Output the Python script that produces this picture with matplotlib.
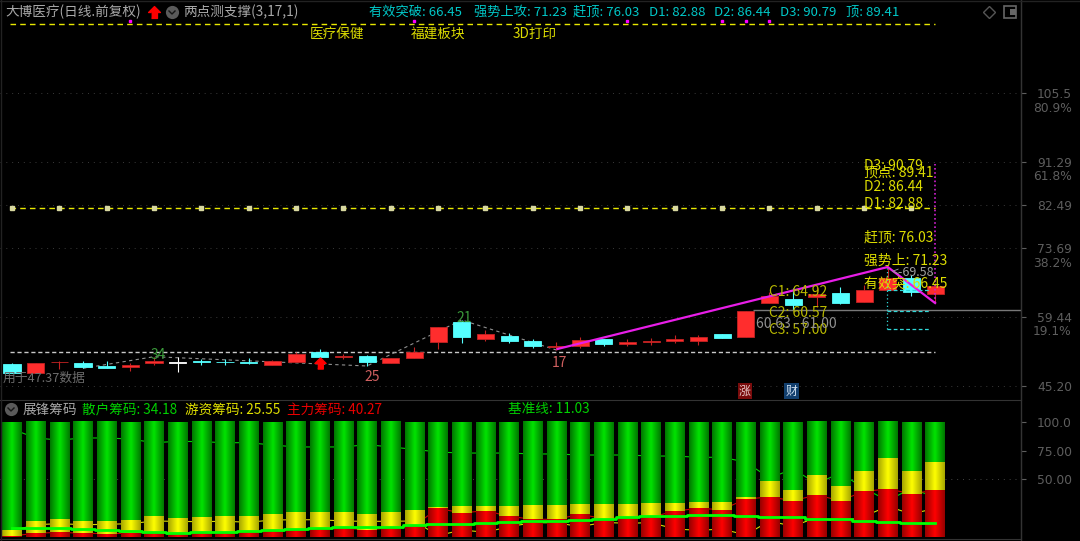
import numpy as np
import matplotlib
matplotlib.use("Agg")
import matplotlib.pyplot as plt
from matplotlib.colors import LinearSegmentedColormap

plt.rcParams['font.family'] = ['Noto Sans CJK SC', 'DejaVu Sans']

# candles, left to right
opens = [49.73, 47.94, 50.04, 49.93, 49.38, 49.05, 50.0, 50.0, 50.28, 50.24,
         50.08, 49.52, 50.2, 52.26, 51.17, 51.38, 50.0, 50.9, 54.2, 58.31,
         54.87, 55.55, 54.4, 53.17, 53.5, 54.81, 53.91, 54.2, 54.46, 54.46,
         55.84, 55.35, 62.22, 63.04, 63.58, 64.4, 62.55, 64.96, 67.49, 64.07]
closes = [47.81, 49.93, 50.2, 49.17, 48.97, 49.52, 50.28, 50.0, 50.08, 50.08,
          49.87, 50.41, 51.85, 51.11, 51.31, 50.2, 50.9, 52.26, 57.4, 55.35,
          55.84, 54.4, 53.5, 53.37, 54.61, 53.91, 54.26, 54.46, 54.87, 55.35,
          55.14, 60.7, 63.72, 61.81, 64.14, 62.35, 64.96, 67.37, 64.48, 65.78]
highs = [50.0, 49.93, 50.35, 50.41, 50.41, 50.0, 51.23, 51.23, 50.76, 50.76,
         50.9, 50.62, 52.26, 52.75, 51.85, 51.58, 50.9, 53.29, 57.4, 58.78,
         56.73, 56.17, 54.87, 54.2, 55.35, 54.81, 54.87, 55.14, 55.63, 55.63,
         55.84, 60.7, 64.61, 65.31, 65.64, 65.51, 65.99, 69.75, 68.05, 66.4]
lows = [47.81, 47.94, 48.7, 48.84, 48.84, 48.23, 49.52, 48.14, 49.52, 49.52,
        49.67, 49.52, 50.2, 51.11, 50.69, 49.32, 50.0, 50.9, 52.82, 54.11,
        54.46, 54.11, 52.98, 52.61, 53.08, 53.5, 53.43, 53.64, 54.11, 53.64,
        54.98, 55.35, 62.22, 60.84, 61.52, 62.02, 62.55, 64.96, 63.78, 62.22]

# chip percentages per bar
zhuli = [0.9, 3.2, 4.1, 3.2, 2.9, 3.2, 4.1, 3.2, 3.8, 4.3,
         5.2, 5.2, 6.7, 6.7, 7.8, 6.1, 8.0, 9.9, 24.9, 20.9,
         22.9, 18.0, 15.4, 15.4, 19.7, 16.0, 16.8, 17.1, 22.6, 24.9,
         23.8, 33.0, 34.8, 31.6, 36.5, 31.6, 39.7, 41.7, 37.7, 40.6]
youzi = [5.2, 10.7, 11.6, 10.7, 11.0, 11.6, 13.9, 13.6, 13.3, 13.7,
         12.8, 14.8, 15.0, 15.0, 13.9, 13.6, 13.7, 13.9, 1.2, 6.1,
         4.1, 9.0, 12.4, 12.4, 9.0, 12.7, 11.9, 12.5, 7.0, 5.8,
         6.9, 1.8, 13.9, 9.3, 17.1, 12.7, 18.0, 26.7, 20.0, 24.9]
sanhu = [93.9, 86.1, 84.3, 86.1, 86.1, 85.2, 82.0, 83.2, 82.9, 82.0,
         82.0, 80.0, 78.3, 78.3, 78.3, 80.3, 78.3, 76.2, 73.9, 73.0,
         73.0, 73.0, 72.2, 72.2, 71.3, 71.3, 71.3, 70.4, 70.4, 69.3,
         69.3, 65.2, 51.3, 59.1, 46.4, 55.7, 42.3, 31.6, 42.3, 34.5]
jizhun = [7.5, 8.1, 7.5, 7.2, 6.4, 5.2, 4.3, 3.8, 4.1, 4.6,
          5.5, 6.1, 6.7, 7.5, 8.7, 8.7, 9.0, 10.4, 11.3, 11.3,
          12.2, 13.0, 14.2, 14.2, 15.1, 15.9, 17.1, 18.0, 18.0, 19.1,
          19.4, 18.3, 17.1, 17.1, 15.9, 15.4, 14.2, 13.0, 11.9, 11.9]

# lines on the price panel
zz_x = [3, 6, 15, 19, 23]
zz_y = [48.84, 51.23, 49.32, 58.78, 52.61]
trend_x = [23.05, 37, 39]
trend_y = [52.82, 69.69, 62.28]
event_bars = [5, 17, 26, 30, 31, 32]
support_price = 52.2
top_line = 119.7
mid_line = 81.85
last_price = 60.84

level_names = ["D3", "顶点", "D2", "D1", "赶顶", "强势上", "有效突"]
level_vals = [90.79, 89.41, 86.44, 82.88, 76.03, 71.23, 66.45]
c_names = ["C1", "C2", "C3"]
c_vals = [64.92, 60.57, 57.00]

price_ticks = [105.5, 91.29, 82.49, 73.69, 59.44, 45.20]
pct_ticks = [102.6, 88.6, 70.7, 56.7]
pct_labels = ["80.9%", "61.8%", "38.2%", "19.1%"]
chip_ticks = [100.0, 75.0, 50.0]
chip_labels = ["100.0", "75.00", "50.00"]

BG = "black"
FRAME = "#333333"
AXTXT = "#5e5e5e"
YEL = "#dcdc00"
CYAN = "#00c8c8"
GRAY = "#a8a8a8"
ARROW = [(-0.5, 0), (-1, 0), (0, 1), (1, 0), (0.5, 0), (0.5, -1), (-0.5, -1)]

W, H = 1080, 541
fig = plt.figure(figsize=(W / 100, H / 100), dpi=100, facecolor=BG)


def pix_axes(x0, y0, x1, y1):
    return fig.add_axes([x0 / W, 1 - y1 / H, (x1 - x0) / W, (y1 - y0) / H], facecolor=BG)


ax = pix_axes(0, 0, 1021, 400)
sub = pix_axes(0, 421, 1021, 539)
top = fig.add_axes([0, 0, 1, 1], facecolor="none")
top.set_xlim(0, W)
top.set_ylim(H, 0)
top.axis("off")

xlim = (-0.507, 42.63)
x = np.arange(len(opens))

# price panel
for p in price_ticks:
    ax.axhline(p, color="#3a3a3a", lw=0.7, ls=(0, (1, 5)), zorder=1)
ax.plot([-0.1, 39], [support_price, support_price], color="#c8c8c8", lw=1, ls=(0, (3, 2)), zorder=2)
ax.plot([-0.1, 39], [top_line, top_line], color="#e8e800", lw=1, ls=(0, (4, 3)), zorder=2)
ax.plot([-0.1, 39], [mid_line, mid_line], color="#e8e800", lw=1, ls=(0, (4, 3)), zorder=2)
ax.plot(x[::2], [mid_line] * len(x[::2]), ls="", marker="s", ms=3.2, color="#d8d8a0", zorder=3)
ax.plot(event_bars, [top_line + 0.6] * len(event_bars), ls="", marker="s", ms=2, color="#ff00ff", zorder=3)
ax.plot(zz_x, zz_y, color="#909090", lw=0.8, ls=(0, (3, 3)), zorder=3)

for i in x:
    o, c = opens[i], closes[i]
    col = "white" if o == c else ("#ff2d2d" if c > o else "#55ffff")
    edge = "#c42222" if c > o else col
    ax.vlines(i, lows[i], highs[i], color=edge, lw=0.8, zorder=4)
    ax.bar(i, max(abs(c - o), 0.12), bottom=min(o, c), width=0.72, color=col, edgecolor=edge, lw=0.6, zorder=5)

ax.hlines(last_price, 31.3, xlim[1], color="#787878", lw=1, zorder=6)
ax.vlines(39, trend_y[2], level_vals[0], color="#d020d0", lw=1.2, ls=(0, (1, 1.5)), zorder=6)
ax.vlines(36.97, c_vals[2], trend_y[1], color="#30d8d8", lw=0.9, ls=(0, (1, 2)), zorder=6)
ax.hlines(c_vals, 36.97, 38.8, color="#30d8d8", lw=0.9, ls=(0, (3, 2)), zorder=6)
ax.plot(trend_x, trend_y, color="#e81ee8", lw=1.6, zorder=7)
ax.plot(13, 49.9, marker=ARROW, ms=8, color="#ff0000", ls="", zorder=7)

for name, v in zip(level_names, level_vals):
    ax.text(36, v, "%s: %.2f" % (name, v), color=YEL, fontsize=10, va="center_baseline", ha="left", zorder=8)
for name, v in zip(c_names, c_vals):
    ax.text(32, v, "%s: %.2f" % (name, v), color="#b8b800", fontsize=10, va="center_baseline", ha="left", zorder=8)
ax.text(31.45, 58.3, "60.63 - 61.00", color="#909090", fontsize=10, va="center_baseline", zorder=8)
ax.text(37.15, 68.8, "<-69.58", color="#a0a0a0", fontsize=9, va="center_baseline", zorder=8)
ax.text(6.2, 51.5, "34", color="#3a9a3a", fontsize=10, ha="center", va="center", zorder=8)
ax.text(19.1, 59.2, "21", color="#3a9a3a", fontsize=10, ha="center", va="center", zorder=8)
ax.text(15.2, 47.1, "25", color="#d06060", fontsize=10, ha="center", va="center", zorder=8)
ax.text(23.15, 50.0, "17", color="#d06060", fontsize=10, ha="center", va="center", zorder=8)
ax.text(-0.38, 47.1, "用于47.37数据", color="#6c6c6c", fontsize=9.2, va="center_baseline", zorder=8)

ax.set_xlim(*xlim)
ax.set_ylim(42.32, 124.64)
ax.set_xticks([])
ax.yaxis.tick_right()
ax.set_yticks(price_ticks)
ax.set_yticklabels(["%.2f" % t if t != 105.5 else "105.5" for t in price_ticks])
ax.set_yticks(pct_ticks, minor=True)
ax.set_yticklabels(pct_labels, minor=True)
ax.tick_params(axis="y", which="major", colors=AXTXT, length=3.6, width=0.8, pad=8, labelsize=8.8)
ax.tick_params(axis="y", which="minor", colors=AXTXT, length=0, pad=8.6, labelsize=8.8)
for lab in ax.get_yticklabels(which="both"):
    lab.set_fontfamily("DejaVu Sans")

# chip panel
green_cm = LinearSegmentedColormap.from_list("g", ["#007800", "#00e400", "#007800"])
yellow_cm = LinearSegmentedColormap.from_list("y", ["#a8a800", "#ffff00", "#a8a800"])
red_cm = LinearSegmentedColormap.from_list("r", ["#980000", "#ff0000", "#980000"])
grad = np.linspace(0, 1, 32).reshape(1, -1)

sub.plot(x, sanhu, color="#00d000", lw=0.8, zorder=1)
sub.plot(x, youzi, color="#d8d800", lw=0.8, zorder=1)
sub.plot(x, zhuli, color="#c80000", lw=0.8, zorder=1)
sub.axhline(50, color="#444444", lw=0.7, ls=(0, (1, 5)), zorder=0)


def seg(i, lo, hi, cm):
    sub.imshow(grad, extent=(i - 0.41, i + 0.41, lo, hi), cmap=cm, aspect="auto",
               interpolation="bilinear", vmin=0, vmax=1, zorder=2)


for i in x:
    seg(i, 0, zhuli[i], red_cm)
    seg(i, zhuli[i], zhuli[i] + youzi[i], yellow_cm)
    seg(i, zhuli[i] + youzi[i], zhuli[i] + youzi[i] + sanhu[i], green_cm)
sub.plot(x, jizhun, color="#00ff00", lw=2, drawstyle="steps-mid", zorder=3)

sub.set_xlim(*xlim)
sub.set_ylim(-1.74, 100.87)
sub.set_xticks([])
sub.yaxis.tick_right()
sub.set_yticks(chip_ticks)
sub.set_yticklabels(chip_labels, fontfamily="DejaVu Sans")
sub.tick_params(axis="y", colors=AXTXT, length=3.6, width=0.8, pad=8, labelsize=8.8)

for a in (ax, sub):
    for s in a.spines.values():
        s.set_visible(False)
    a.spines["bottom"].set_visible(True)
    a.spines["bottom"].set_color(FRAME)
    a.spines["right"].set_visible(True)
    a.spines["right"].set_color(FRAME)

# frame and header rows
top.plot([1021, 1021], [0, H], color=FRAME, lw=1)
top.plot([0, W], [0.5, 0.5], color="#222222", lw=1)
top.plot([1, 1], [0, H], color="#222222", lw=1)


def htext(px, py, s, col, size=9.8):
    top.text(px, py + 4.5, s, color=col, fontsize=size, va="baseline", ha="left")


def chevron(px, py):
    top.plot(px, py, marker="o", ms=9.5, color="#5a5a5a", mew=0)
    top.plot([px - 3, px, px + 3], [py - 1, py + 2, py - 1], color="#161616", lw=1)


htext(5, 12, "大博医疗(日线.前复权)", GRAY)
top.plot(154, 12, marker=ARROW, ms=8.5, color="#ff0000", ls="")
chevron(172, 12)
htext(183, 12, "两点测支撑(3,17,1)", GRAY)

cyan_labels = ["有效突破: 66.45", "强势上攻: 71.23", "赶顶: 76.03", "D1: 82.88", "D2: 86.44", "D3: 90.79", "顶: 89.41"]
cyan_x = [369, 474, 573, 649, 714, 780, 846]
for px, s in zip(cyan_x, cyan_labels):
    htext(px, 11, s, CYAN, 9.5)
for px, s in zip([310, 411, 513], ["医疗保健", "福建板块", "3D打印"]):
    htext(px, 33, s, YEL)

top.plot(989, 12, marker="D", ms=6.5, mfc="none", mec="#555555", mew=1)
top.plot(1010, 12, marker="s", ms=9, mfc="none", mec="#666666", mew=1.2)
top.plot(1012.5, 12, marker="s", ms=5, color="#666666", mew=0)

chevron(11, 409)
htext(23, 409, "展锋筹码", GRAY)
htext(82, 409, "散户筹码: 34.18", "#00d000")
htext(185, 409, "游资筹码: 25.55", "#e0e000")
htext(287, 409, "主力筹码: 40.27", "#e80000")
htext(508, 409, "基准线: 11.03", "#00d000")

top.text(745, 391, "涨", color="#e8c8c8", fontsize=8.6, ha="center", va="center",
         bbox=dict(boxstyle="square,pad=0.1", fc="#7a0c0c", ec="none"))
top.text(791.5, 391, "财", color="#d0e0f0", fontsize=8.6, ha="center", va="center",
         bbox=dict(boxstyle="square,pad=0.1", fc="#123f6e", ec="none"))

fig.savefig("out.png", dpi=100, facecolor=BG)
